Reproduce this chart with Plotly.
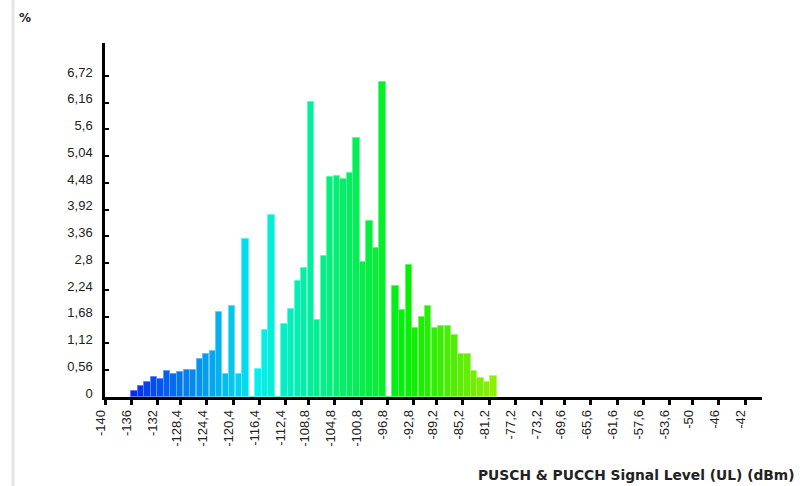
import colorsys
import plotly.graph_objects as go

# ---- data ----
bin_start = list(range(-136, -80))  # 1 dBm bins, -136 ... -81
pct = [0.13, 0.23, 0.32, 0.42, 0.38, 0.54, 0.48, 0.52, 0.57, 0.57,
       0.79, 0.89, 0.96, 1.78, 0.49, 1.91, 0.49, 3.30, 0.00, 0.58,
       1.40, 3.81, 0.00, 1.53, 1.85, 2.42, 2.70, 6.18, 1.62, 2.95,
       4.60, 4.62, 4.57, 4.69, 5.43, 2.83, 3.68, 3.11, 6.60, 0.00,
       2.32, 1.82, 2.76, 1.44, 1.68, 1.90, 1.44, 1.49, 1.49, 1.30,
       0.89, 0.89, 0.54, 0.39, 0.32, 0.43]

x_tickvals = [-140, -136, -132, -128.4, -124.4, -120.4, -116.4, -112.4, -108.8,
              -104.8, -100.8, -96.8, -92.8, -89.2, -85.2, -81.2, -77.2, -73.2,
              -69.6, -65.6, -61.6, -57.6, -53.6, -50, -46, -42]
x_ticktext = ["-140", "-136", "-132", "-128,4", "-124,4", "-120,4", "-116,4",
              "-112,4", "-108,8", "-104,8", "-100,8", "-96,8", "-92,8", "-89,2",
              "-85,2", "-81,2", "-77,2", "-73,2", "-69,6", "-65,6", "-61,6",
              "-57,6", "-53,6", "-50", "-46", "-42"]
y_tickvals = [0, 0.56, 1.12, 1.68, 2.24, 2.8, 3.36, 3.92, 4.48, 5.04, 5.6, 6.16, 6.72]
y_ticktext = ["0", "0,56", "1,12", "1,68", "2,24", "2,8", "3,36", "3,92",
              "4,48", "5,04", "5,6", "6,16", "6,72"]

x_title = "PUSCH & PUCCH Signal Level (UL) (dBm)"
y_title = "%"

# ---- styling: hue gradient along the x axis ----
def hue_color(x, light=0.48):
    t = (x - bin_start[0]) / (bin_start[-1] - bin_start[0])
    h = (230 - 145 * t) / 360.0
    r, g, b = colorsys.hls_to_rgb(h, light, 0.95)
    return "rgb(%d,%d,%d)" % (r * 255, g * 255, b * 255)

centers = [b + 0.5 for b in bin_start]
fill = [hue_color(b) for b in bin_start]
edge = [hue_color(b, 0.68) for b in bin_start]

fig = go.Figure()
fig.add_trace(go.Bar(
    x=centers, y=pct, width=0.96,
    marker=dict(color=fill, line=dict(color=edge, width=1)),
    hoverinfo="skip",
))

L, R, T, B = 105, 40, 43, 89
W, H = 802, 486
pw, ph = W - L - R, H - T - B

fig.update_layout(
    width=W, height=H,
    margin=dict(l=L, r=R, t=T, b=B, pad=0, autoexpand=False),
    paper_bgcolor="white", plot_bgcolor="white",
    showlegend=False, bargap=0,
    font=dict(family="Liberation Sans, Arial, sans-serif", size=13, color="#222222"),
    xaxis=dict(
        range=[-140, -39.4], tickmode="array", tickvals=x_tickvals, ticktext=x_ticktext,
        tickangle=-90, showgrid=False, zeroline=False, automargin=False,
        showline=True, linecolor="black", linewidth=2.5,
        ticks="outside", ticklen=5, tickwidth=2.5, tickcolor="black",
        ticklabelshift=-4,
        tickfont=dict(size=13, color="#222222"),
    ),
    yaxis=dict(
        range=[0, 7.41], tickmode="array", tickvals=y_tickvals, ticktext=y_ticktext,
        showgrid=False, zeroline=False, automargin=False,
        showline=True, linecolor="black", linewidth=2.5,
        ticks="inside", ticklen=4, tickwidth=2, tickcolor="black",
        ticklabelstandoff=7, ticklabelshift=-4,
        tickfont=dict(size=13, color="#222222"),
    ),
    annotations=[
        dict(text="<b>" + x_title + "</b>", xref="paper", yref="paper",
             x=1 + (797 - (W - R)) / pw, y=-(475 - (H - B)) / ph,
             xanchor="right", yanchor="middle", showarrow=False,
             font=dict(family="DejaVu Sans, sans-serif", size=13.8, color="#222222")),
        dict(text="<b>" + y_title + "</b>", xref="paper", yref="paper",
             x=(17 - L) / pw, y=1 + (T - 18) / ph,
             xanchor="left", yanchor="middle", showarrow=False,
             font=dict(family="DejaVu Sans, sans-serif", size=12, color="#222222")),
    ],
    shapes=[
        dict(type="line", xref="paper", yref="paper",
             x0=(13 - L) / pw, x1=(13 - L) / pw, y0=-B / ph, y1=1 + T / ph,
             line=dict(color="#e6e6e6", width=3)),
    ],
)

fig.write_html("out.html", config={"displayModeBar": False},
               post_script="document.body.style.margin='0';document.body.style.padding='0';")
